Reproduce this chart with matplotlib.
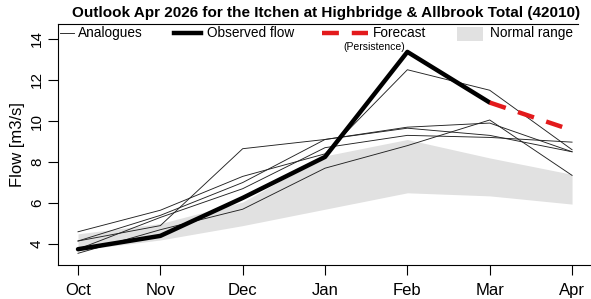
import matplotlib.pyplot as plt
import numpy as np
from matplotlib.lines import Line2D
from matplotlib.patches import Rectangle

plt.rcParams["font.family"] = ["Liberation Sans", "DejaVu Sans"]

months = ["Oct", "Nov", "Dec", "Jan", "Feb", "Mar", "Apr"]

# normal range (lower / upper bound of shaded band)
normal_low = [3.7, 4.2, 4.9, 5.7, 6.5, 6.35, 5.95]
normal_high = [4.5, 5.0, 6.05, 8.3, 9.1, 8.2, 7.4]

# analogue years
analogues = [
    [4.15, 4.9, 8.65, 9.1, 9.65, 9.3, 8.5],
    [4.6, 5.65, 7.3, 8.4, 12.5, 11.5, 8.6],
    [3.55, 4.7, 5.7, 7.7, 8.8, 10.05, 7.35],
    [4.15, 5.4, 7.0, 9.1, 9.7, 9.9, 8.5],
    [3.75, 5.3, 6.7, 8.7, 9.3, 9.2, 8.97],
]

# observed flow Oct-Mar, persistence forecast Mar-Apr
observed = [3.75, 4.4, 6.25, 8.25, 13.37, 10.9]
forecast = [10.9, 9.55]

W, H = 591, 299
fig = plt.figure(figsize=(W / 100, H / 100), dpi=100)
ax = fig.add_axes([58 / W, 1 - 265 / H, (W - 58) / W, (265 - 24) / H])

red = "#e31a1c"
dash = (3.8, 2.9)

x = np.arange(len(months))
ax.fill_between(x, normal_low, normal_high, color="#e1e1e1", lw=0)
for a in analogues:
    ax.plot(x, a, color="#222222", lw=0.65)
ax.plot(x[:len(observed)], observed, color="black", lw=3.2, solid_capstyle="round")
ax.plot(x[5:7], forecast, color=red, lw=3.2, dashes=dash)

ax.set_xlim(-0.243, 6.23)
ax.set_ylim(2.98, 14.73)
ax.set_xticks(x)
ax.set_xticklabels(months, fontsize=12)
ax.set_yticks([4, 6, 8, 10, 12, 14])
ax.set_yticklabels(["4", "6", "8", "10", "12", "14"], fontsize=11, rotation=90, va="center")
ax.tick_params(axis="both", length=7, width=0.8, direction="out")
ax.tick_params(axis="x", pad=6)
ax.tick_params(axis="y", pad=3)
ax.spines["right"].set_visible(False)
ax.spines["top"].set_visible(False)
for s in ("left", "bottom"):
    ax.spines[s].set_linewidth(0.8)
ax.plot([0, (578 - 58) / (W - 58)], [1, 1], transform=ax.transAxes,
        color="black", lw=0.8, clip_on=False)
ax.set_ylabel("Flow [m3/s]", fontsize=12, labelpad=4)

fig.text(326 / W, 1 - 13 / H,
         "Outlook Apr 2026 for the Itchen at Highbridge & Allbrook Total (42010)",
         ha="center", va="center", fontsize=11, fontweight="bold")

# legend drawn by hand along the top
def fx(px):
    return px / W

def fy(py):
    return 1 - py / H

ly = 33
fs = 9.8
fig.add_artist(Line2D([fx(60), fx(74)], [fy(ly), fy(ly)], color="#222222", lw=0.65))
fig.text(fx(78), fy(ly), "Analogues", fontsize=fs, va="center")
fig.add_artist(Line2D([fx(174), fx(201)], [fy(ly), fy(ly)], color="black", lw=3.2))
fig.text(fx(207), fy(ly), "Observed flow", fontsize=fs, va="center")
fig.add_artist(Line2D([fx(322), fx(368)], [fy(ly), fy(ly)], color=red, lw=3.2,
                      dashes=dash))
fig.text(fx(373), fy(ly), "Forecast", fontsize=fs, va="center")
fig.text(fx(374), fy(47), "(Persistence)", fontsize=7.5, va="center", ha="center")
fig.add_artist(Rectangle((fx(457), fy(41)), fx(26), 14 / H, color="#e1e1e1", lw=0))
fig.text(fx(490), fy(ly), "Normal range", fontsize=fs, va="center")

fig.savefig("out.png", dpi=100)
